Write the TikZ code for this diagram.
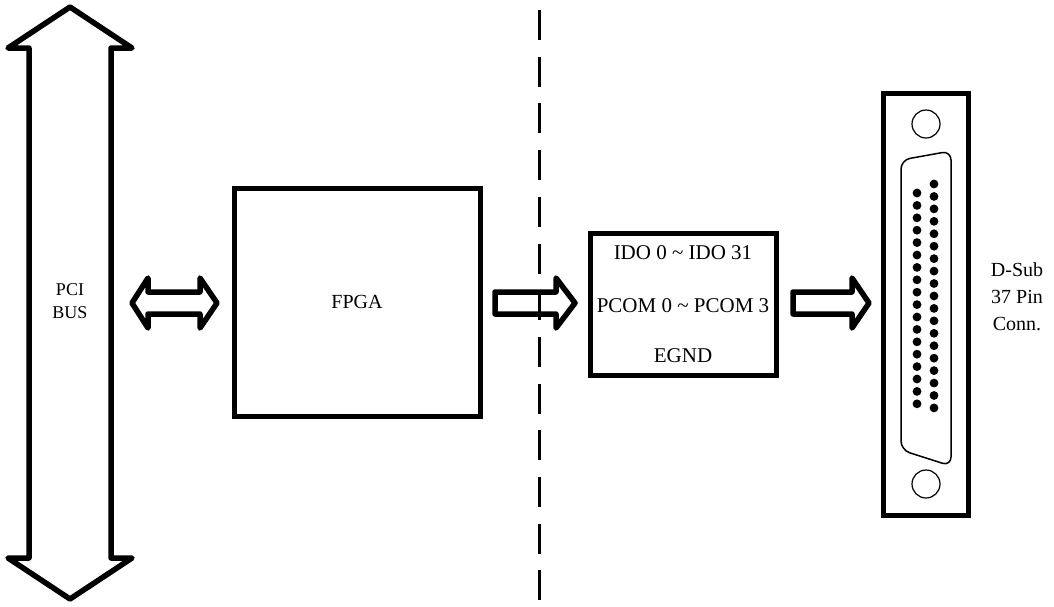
\documentclass[tikz,border=0pt]{standalone}
\usepackage{fontspec}
\setmainfont{Liberation Serif}
\begin{document}
\begin{tikzpicture}[x=1pt,y=-1pt,
  blockarrow/.style={draw, line width=5.5pt, line join=round, fill=white},
  boxframe/.style={draw, line width=5pt, inner sep=0pt},
  lbl/.style={font=\fontsize{20}{24}\selectfont, inner sep=0pt, align=center},
  boxlbl/.style={lbl, font=\fontsize{21}{25}\selectfont},
  pin/.style={fill=black}]
\useasboundingbox (0,0) rectangle (1054,606);

% PCI bus double arrow
\draw[blockarrow] (70,7) -- (132,48) -- (111,48) -- (111,558) -- (132,558)
  -- (70,599) -- (8,558) -- (29,558) -- (29,48) -- (8,48) -- cycle;
\node[lbl, font=\fontsize{18}{23}\selectfont] (pci) at (70,301) {PCI\\BUS};

% FPGA
\node[boxframe, minimum width=246pt, minimum height=228pt] (fpga) at (357,302) {};
\node[lbl] (fpgatxt) at (fpga.center) {FPGA};

% double arrow PCI <-> FPGA
\draw[blockarrow] (132,303) -- (148,278) -- (148,292) -- (200,292) -- (200,278)
  -- (217,303) -- (200,328) -- (200,314) -- (148,314) -- (148,328) -- cycle;

% arrow FPGA -> IDO
\draw[blockarrow] (495,292) -- (556,292) -- (556,278) -- (575,303) -- (556,328)
  -- (556,314) -- (495,314) -- cycle;

% IDO box
\node[boxframe, minimum width=186pt, minimum height=142pt] (ido) at (683,304) {};
\node[boxlbl] (t1) at (683,253) {IDO 0 \textasciitilde\ IDO 31};
\node[boxlbl] (t2) at (683,306) {PCOM 0 \textasciitilde\ PCOM 3};
\node[boxlbl] (t3) at (683,356) {EGND};

% arrow IDO -> connector
\draw[blockarrow] (793,292) -- (852,292) -- (852,278) -- (869,303) -- (852,328)
  -- (852,314) -- (793,314) -- cycle;

% dashed isolation line
\coordinate (dtop) at (539,10);
\coordinate (dbot) at (539,600);
\draw[line width=3pt, dash pattern=on 30pt off 16.7pt] (dtop) -- (dbot);

% connector
\node[boxframe, minimum width=85pt, minimum height=422pt] (conn) at (925.5,304) {};
\draw[line width=1.2pt] (926,124) circle (14pt);
\draw[line width=1.2pt] (926,484) circle (14pt);
\draw[line width=1.5pt, rounded corners=9pt] (901,160) -- (951,151) -- (951,466) -- (901,450) -- cycle;
\foreach \k in {0,...,18} \fill[pin] (934,{184+12.44*\k}) circle (4.4pt);
\foreach \k in {0,...,17} \fill[pin] (917,{193+12.4*\k}) circle (4.4pt);

\node[lbl, font=\fontsize{20}{27}\selectfont] (dsub) at (1017,297) {D-Sub\\37 Pin\\Conn.};
\end{tikzpicture}
\end{document}
